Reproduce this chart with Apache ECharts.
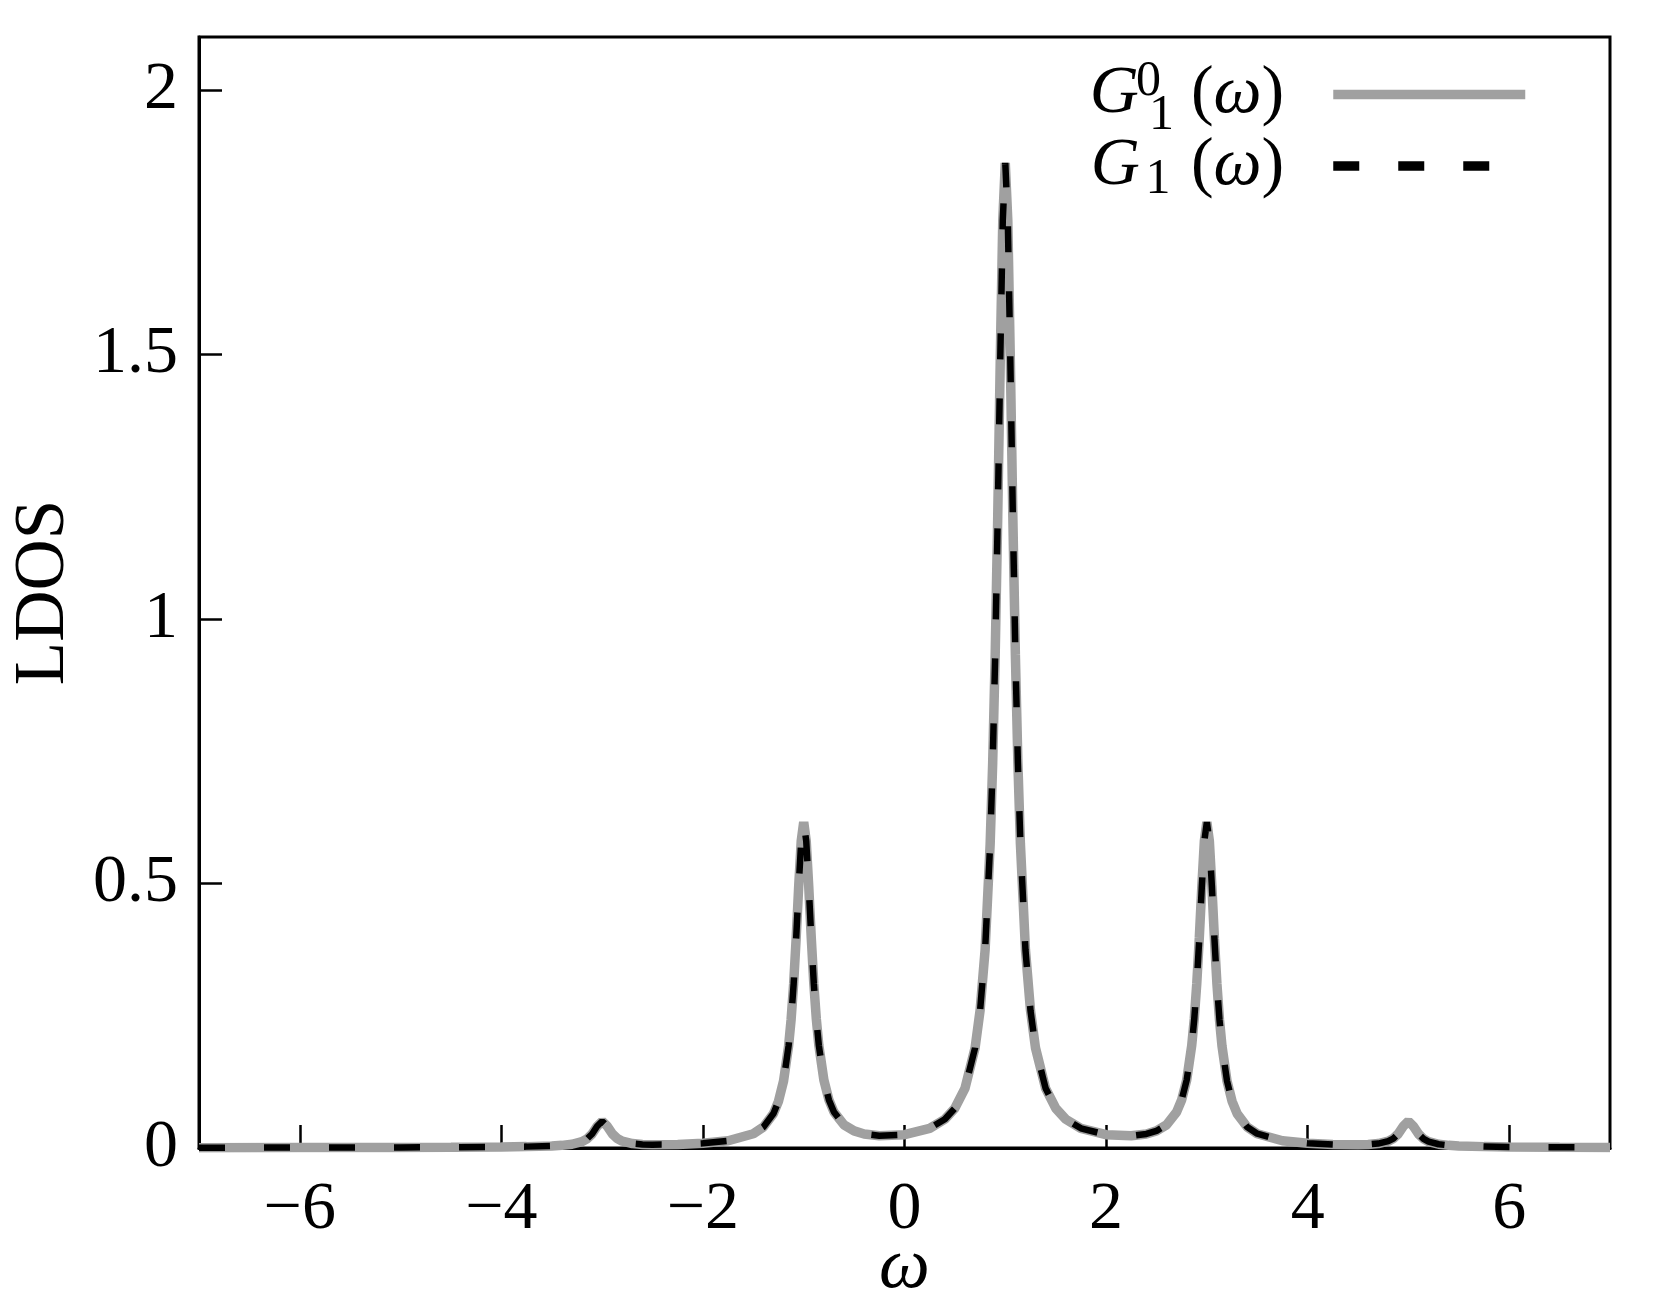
<!DOCTYPE html>
<html>
<head>
<meta charset="utf-8">
<script src="https://cdn.jsdelivr.net/npm/echarts@6/dist/echarts.min.js"></script>
<style>
html, body { margin: 0; padding: 0; background: #fff; }
#chart { width: 1661px; height: 1292px; }
</style>
</head>
<body>
<div id="chart"></div>
<script>
// omega grid (denser around the peaks)
const omega = [
  -7, -6, -5, -4.5, -4, -3.75, -3.5, -3.4, -3.3, -3.2, -3.15, -3.1, -3.05, -3, -2.95,
  -2.9, -2.85, -2.8, -2.7, -2.6, -2.5, -2.25, -2, -1.75, -1.5, -1.4, -1.3, -1.25, -1.2, -1.15,
  -1.125, -1.1, -1.075, -1.05, -1.025, -1, -0.975, -0.95, -0.925, -0.9, -0.875, -0.85, -0.8, -0.75, -0.7,
  -0.6, -0.5, -0.4, -0.25, 0, 0.25, 0.4, 0.5, 0.6, 0.7, 0.75, 0.8, 0.85, 0.875, 0.9,
  0.925, 0.95, 0.975, 1, 1.025, 1.05, 1.075, 1.1, 1.125, 1.15, 1.2, 1.25, 1.3, 1.4, 1.5,
  1.6, 1.75, 2, 2.25, 2.4, 2.5, 2.6, 2.7, 2.75, 2.8, 2.85, 2.875, 2.9, 2.925, 2.95,
  2.975, 3, 3.025, 3.05, 3.075, 3.1, 3.125, 3.15, 3.2, 3.25, 3.3, 3.4, 3.5, 3.75, 4,
  4.25, 4.5, 4.6, 4.7, 4.8, 4.85, 4.9, 4.95, 5, 5.05, 5.1, 5.15, 5.2, 5.3, 5.4,
  5.5, 5.75, 6, 6.5, 7
];

// LDOS of G_1^0(omega)
const ldosG0 = [
  0.0006, 0.0008, 0.0011, 0.0014, 0.0021, 0.0026, 0.0039, 0.0050, 0.0071, 0.0120, 0.0173, 0.0265, 0.0410, 0.0506, 0.0412,
  0.0270, 0.0179, 0.0129, 0.0084, 0.0068, 0.0063, 0.0067, 0.0088, 0.0137, 0.0270, 0.0397, 0.0651, 0.0885, 0.1266, 0.193,
  0.243, 0.310, 0.396, 0.494, 0.580, 0.616, 0.580, 0.494, 0.397, 0.311, 0.244, 0.194, 0.1285, 0.0909, 0.0681,
  0.0438, 0.0323, 0.0266, 0.0232, 0.0252, 0.0372, 0.0543, 0.0752, 0.1128, 0.189, 0.260, 0.375, 0.575, 0.728, 0.933,
  1.193, 1.490, 1.753, 1.862, 1.753, 1.490, 1.193, 0.933, 0.728, 0.575, 0.375, 0.260, 0.189, 0.1128, 0.0752,
  0.0543, 0.0372, 0.0252, 0.0232, 0.0266, 0.0323, 0.0438, 0.0681, 0.0909, 0.1285, 0.194, 0.244, 0.311, 0.397, 0.494,
  0.580, 0.616, 0.580, 0.494, 0.396, 0.310, 0.243, 0.193, 0.1266, 0.0885, 0.0651, 0.0397, 0.0270, 0.0137, 0.0088,
  0.0067, 0.0063, 0.0068, 0.0084, 0.0129, 0.0179, 0.0270, 0.0412, 0.0506, 0.0410, 0.0265, 0.0173, 0.0120, 0.0071, 0.0050,
  0.0039, 0.0026, 0.0021, 0.0014, 0.0011
];

// G_1(omega) lies on top of G_1^0 everywhere in the figure
const ldosG1 = ldosG0.slice();

const xTicks = [-6, -4, -2, 0, 2, 4, 6];
const yTicks = [0, 0.5, 1, 1.5, 2];

const FONT = 'Liberation Serif';

const chart = echarts.init(document.getElementById('chart'));

const option = {
  animation: false,
  backgroundColor: '#fff',
  grid: {
    left: 199, right: 51, top: 37, bottom: 144,
    show: true, borderColor: '#000', borderWidth: 3,
    containLabel: false,
    outerBoundsMode: 'none'
  },
  legend: {
    orient: 'vertical',
    right: 131,
    top: 57,
    padding: 0,
    itemGap: -9,
    itemWidth: 192,
    itemHeight: 10,
    align: 'right',
    selectedMode: false,
    lineStyle: { width: 9.5 },
    itemStyle: { opacity: 0, borderWidth: 0 },
    formatter: function (name) {
      if (name === 'G0') return '{g|G}{k| }{sup|0}{sub|1}{n| (}{w|ω}{n|)}{pad| }';
      return '{g|G}{k2| }{sub2|1}{n| (}{w|ω}{n|)}{pad| }';
    },
    textStyle: {
      fontFamily: FONT, fontSize: 68, color: '#000',
      rich: {
        g: { fontFamily: FONT, fontStyle: 'italic', fontSize: 68, lineHeight: 71 },
        k: { fontSize: 68, width: 9, lineHeight: 71 },
        k2: { fontSize: 68, width: 2, lineHeight: 71 },
        sup: { fontFamily: FONT, fontSize: 50, lineHeight: 46, height: 46, verticalAlign: 'top', align: 'left', width: 1 },
        sub: { fontFamily: FONT, fontSize: 50, lineHeight: 28, height: 28, verticalAlign: 'bottom' },
        sub2: { fontFamily: FONT, fontSize: 50, lineHeight: 44, height: 44, verticalAlign: 'bottom', align: 'left', width: 32 },
        n: { fontFamily: FONT, fontSize: 68, lineHeight: 71 },
        w: { fontFamily: FONT, fontStyle: 'italic', fontSize: 68, lineHeight: 71 },
        pad: { fontSize: 68, width: 44, lineHeight: 71 }
      }
    },
    data: ['G0', 'G1']
  },
  xAxis: {
    type: 'value',
    min: -7,
    max: 7,
    name: 'ω',
    nameLocation: 'middle',
    nameGap: 100,
    nameMoveOverlap: false,
    nameTextStyle: { fontFamily: FONT, fontStyle: 'italic', fontSize: 72, lineHeight: 40, color: '#000' },
    axisLine: { show: true, onZero: false, lineStyle: { color: '#000', width: 3 } },
    axisTick: { inside: true, length: 23, lineStyle: { color: '#000', width: 2.5 }, customValues: xTicks },
    axisLabel: {
      customValues: xTicks,
      margin: 28,
      fontFamily: FONT, fontSize: 68, lineHeight: 68, color: '#000',
      formatter: v => String(v).replace('-', '\u2212')
    },
    splitLine: { show: false }
  },
  yAxis: {
    type: 'value',
    min: 0,
    max: 2.1,
    name: 'LDOS',
    nameLocation: 'middle',
    nameGap: 121,
    nameMoveOverlap: false,
    nameTextStyle: { fontFamily: FONT, fontSize: 71, lineHeight: 68, color: '#000' },
    axisLine: { show: true, onZero: false, lineStyle: { color: '#000', width: 3 } },
    axisTick: { inside: true, length: 23, lineStyle: { color: '#000', width: 2.5 }, customValues: yTicks },
    axisLabel: {
      customValues: yTicks,
      margin: 21,
      fontFamily: FONT, fontSize: 68, color: '#000'
    },
    splitLine: { show: false }
  },
  series: [
    {
      name: 'G0',
      type: 'line',
      data: omega.map((w, i) => [w, ldosG0[i]]),
      symbol: 'none',
      lineStyle: { color: '#a0a0a0', width: 9.5 },
      itemStyle: { color: '#a0a0a0' },
      z: 2
    },
    {
      name: 'G1',
      type: 'line',
      data: omega.map((w, i) => [w, ldosG1[i]]),
      symbol: 'none',
      lineStyle: { color: '#000', width: 6.5, type: [26, 39] },
      itemStyle: { color: '#000' },
      z: 3
    }
  ]
};

chart.setOption(option);
</script>
</body>
</html>
